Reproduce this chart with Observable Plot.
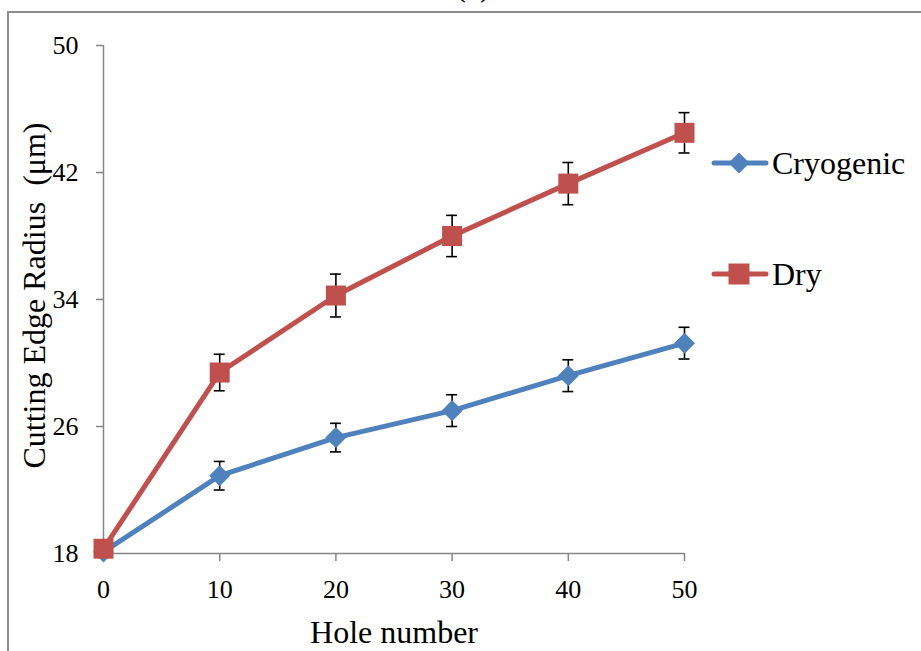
<!DOCTYPE html>
<html>
<head>
<meta charset="utf-8">
<script src="https://cdn.jsdelivr.net/npm/d3@7"></script>
<script src="https://cdn.jsdelivr.net/npm/@observablehq/plot@0.6"></script>
<style>
  html, body { margin: 0; padding: 0; background: #fff; }
  #wrap { position: relative; width: 921px; height: 651px; overflow: hidden; background: #fff; font-family: "Liberation Serif", "Times New Roman", serif; }
  #frame { position: absolute; left: 7px; top: 11px; width: 1000px; height: 1000px; border-left: 2px solid #8c8c8c; border-top: 2px solid #8c8c8c; }
  #title { position: absolute; left: 0; width: 946px; text-align: center; top: -31px; font-size: 32px; line-height: 32px; }
  #chart { position: absolute; left: 0; top: 0; }
  .leg { position: absolute; left: 711px; height: 40px; display: flex; align-items: center; font-size: 32px; color: #000; }
  .leg svg { margin-right: 3px; }
</style>
</head>
<body>
<div id="wrap">
  <div id="frame"></div>
  <div id="title">(a)</div>
  <div id="chart"></div>
  <div id="legend"></div>
</div>
<script>
const holes = [0, 10, 20, 30, 40, 50];
const seriesNames = ["Cryogenic", "Dry"];
const cryogenic = [18.1, 22.9, 25.3, 27.0, 29.2, 31.25];
const cryogenicErr = [0, 0.9, 0.9, 1.0, 1.0, 1.0];
const dry = [18.3, 29.4, 34.25, 38.0, 41.3, 44.5];
const dryErr = [0, 1.15, 1.35, 1.3, 1.33, 1.27];
const xTicks = [0, 10, 20, 30, 40, 50];
const yTicks = [18, 26, 34, 42, 50];
const colors = ["#4F81BD", "#C0504D"];

const rows = [];
holes.forEach((h, i) => {
  rows.push({series: "Cryogenic", x: h, y: cryogenic[i], e: cryogenicErr[i]});
});
holes.forEach((h, i) => {
  rows.push({series: "Dry", x: h, y: dry[i], e: dryErr[i]});
});
const cryoRows = rows.filter(d => d.series === "Cryogenic");
const dryRows = rows.filter(d => d.series === "Dry");
const capHalf = 0.47;

function seriesMarks(data, color, symbol, r) {
  const withErr = data.filter(d => d.e > 0);
  return [
    Plot.line(data, {x: "x", y: "y", stroke: color, strokeWidth: 5, strokeLinejoin: "round", strokeLinecap: "round"}),
    Plot.ruleX(withErr, {x: "x", y1: d => d.y - d.e, y2: d => d.y + d.e, stroke: "#000", strokeWidth: 1.6}),
    Plot.ruleY(withErr, {y: d => d.y - d.e, x1: d => d.x - capHalf, x2: d => d.x + capHalf, stroke: "#000", strokeWidth: 1.6}),
    Plot.ruleY(withErr, {y: d => d.y + d.e, x1: d => d.x - capHalf, x2: d => d.x + capHalf, stroke: "#000", strokeWidth: 1.6}),
    Plot.dot(data, {x: "x", y: "y", symbol: symbol, r: r, fill: color, stroke: "none"})
  ];
}

const chart = Plot.plot({
  width: 921,
  height: 651,
  marginLeft: 103,
  marginRight: 237,
  marginTop: 45,
  marginBottom: 98,
  style: {background: "transparent", fontFamily: "'Liberation Serif', 'Times New Roman', serif", overflow: "visible"},
  x: {domain: [0, 50]},
  y: {domain: [18, 50]},
  marks: [
    Plot.ruleX([0], {stroke: "#868686", strokeWidth: 1.5}),
    Plot.ruleY([18], {stroke: "#868686", strokeWidth: 1.5}),
    Plot.axisY({ticks: yTicks, tickSize: 7, tickPadding: 18, fontSize: 26, stroke: "#868686", strokeWidth: 1.5, fill: "#000", label: null, tickFormat: d => String(d)}),
    Plot.axisX({ticks: xTicks, tickSize: 8, tickPadding: 18, fontSize: 26, stroke: "#868686", strokeWidth: 1.5, fill: "#000", label: null, tickFormat: d => String(d)}),
    Plot.text(["Hole number"], {frameAnchor: "bottom", dy: 79, fontSize: 32, fill: "#000", lineAnchor: "middle", textAnchor: "middle"}),
    Plot.text(["Cutting Edge Radius\u00a0 (\u03bcm)"], {frameAnchor: "left", dx: -69, dy: -4, rotate: -90, fontSize: 32, fill: "#000", lineAnchor: "middle", textAnchor: "middle"}),
    ...seriesMarks(cryoRows, colors[0], d3.symbolDiamond2, 9.46),
    ...seriesMarks(dryRows, colors[1], "square", 11.28)
  ]
});
document.getElementById("chart").appendChild(chart);

// Legend
const legend = document.getElementById("legend");
const legTops = [143, 254];
const legSymbols = [d3.symbolDiamond2, d3.symbolSquare];
const legSizes = [281, 441];
seriesNames.forEach((name, i) => {
  const div = document.createElement("div");
  div.className = "leg";
  div.style.top = legTops[i] + "px";
  const sym = d3.symbol().type(legSymbols[i]).size(legSizes[i])();
  div.innerHTML = `<svg width="58" height="40" viewBox="0 0 58 40">
    <line x1="3" y1="20" x2="55" y2="20" stroke="${colors[i]}" stroke-width="5" stroke-linecap="round"/>
    <path d="${sym}" transform="translate(28,20)" fill="${colors[i]}"/>
  </svg><span>${name}</span>`;
  legend.appendChild(div);
});
</script>
</body>
</html>
